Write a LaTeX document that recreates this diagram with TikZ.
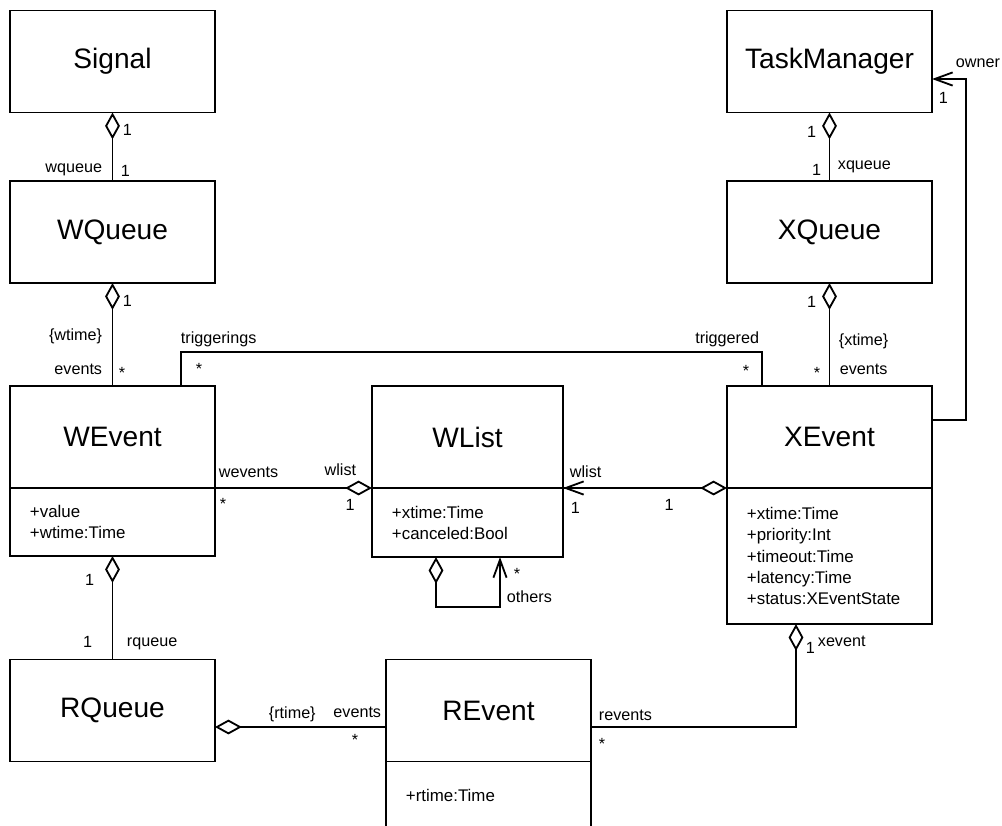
\documentclass[tikz,border=0pt]{standalone}
\usepackage{fontspec}
\setmainfont{Liberation Sans}
\usetikzlibrary{positioning,calc,arrows.meta}
\begin{document}
\begin{tikzpicture}[x=0.025cm,y=-0.025cm,line width=1.3pt,
  cls/.style={draw, inner sep=0pt, outer sep=0pt, minimum width=5.125cm, minimum height=2.55cm, font=\fontsize{20}{24}\selectfont},
  attrs/.style={draw, inner xsep=0.5cm, inner ysep=0pt, outer sep=0pt, align=left, font=\fontsize{12}{15}\selectfont},
  lbl/.style={inner sep=0pt, font=\fontsize{11.5}{13}\selectfont},
  aggr/.style={-{Diamond[open,length=0.67cm,width=0.37cm]}},
  nav/.style={-{Straight Barb[length=0.45cm,width=0.33cm]}}]
\useasboundingbox (0,0) rectangle (1002,825);
% classes
\node[cls] (signal) at (112.5,61.5) {Signal};
\node[cls] (wqueue) at (112.5,232) {WQueue};
\node[cls] (wevent) at (112.5,437) {WEvent};
\node[attrs, text width=4.125cm, minimum height=1.7cm, below=0pt of wevent] (weventattr) {+value\\+wtime:Time};
\node[cls] (rqueue) at (112.5,710.5) {RQueue};
\node[cls, minimum width=4.775cm] (wlist) at (467.5,437) {WList};
\node[attrs, text width=3.775cm, minimum height=1.725cm, below=0pt of wlist] (wlistattr) {+xtime:Time\\+canceled:Bool};
\node[cls] (revent) at (488.5,710.5) {REvent};
\node[attrs, text width=4.125cm, minimum height=1.7cm, below=0pt of revent] (reventattr) {+rtime:Time};
\node[cls] (taskmgr) at (829.5,61.5) {TaskManager};
\node[cls] (xqueue) at (829.5,232) {XQueue};
\node[cls] (xevent) at (829.5,437) {XEvent};
\node[attrs, text width=4.125cm, minimum height=3.4cm, below=0pt of xevent] (xeventattr) {+xtime:Time\\+priority:Int\\+timeout:Time\\+latency:Time\\+status:XEventState};
% associations
\draw[aggr] (wqueue.north) -- (signal.south);
\draw[aggr] (wevent.north) -- (wqueue.south);
\draw ($(wevent.north)+(68.5,0)$) -- ++(0,-34) -| ($(xevent.north)+(-67.5,0)$);
\draw[aggr] (weventattr.north east) -- (wlistattr.north west);
\draw[aggr] (wlistattr.north east) -- (xeventattr.north west);
\draw[{Straight Barb[length=0.45cm,width=0.33cm]}-] (wlistattr.north east) -- ++(20,0);
\draw[{Diamond[open,length=0.67cm,width=0.37cm]}-{Straight Barb[length=0.45cm,width=0.33cm]}]
  ($(wlistattr.south)+(-31.5,0)$) -- ++(0,50) -| ($(wlistattr.south)+(32.5,0)$);
\draw[aggr] (rqueue.north) -- (weventattr.south);
\draw[{Diamond[open,length=0.67cm,width=0.37cm]}-] ($(rqueue.east)+(0,16.5)$) -- ($(revent.west)+(0,16.5)$);
\draw[aggr] ($(revent.east)+(0,16.5)$) -| ($(xeventattr.south)+(-33.5,0)$);
\draw[aggr] (xqueue.north) -- (taskmgr.south);
\draw[aggr] (xevent.north) -- (xqueue.south);
\draw[nav] ($(xevent.east)+(0,-17)$) -- ++(34,0) |- ($(taskmgr.east)+(0,17.5)$);
% role names and multiplicities
\node[lbl, anchor=base west] (sw1) at (122,135) {1};
\node[lbl, anchor=base east] (sw2) at (103,172) {wqueue};
\node[lbl, anchor=base west] (sw3) at (120,176) {1};
\node[lbl, anchor=base west] (qe1) at (122,306) {1};
\node[lbl, anchor=base east] (qe2) at (103,340) {\{wtime\}};
\node[lbl, anchor=base east] (qe3) at (103,374) {events};
\node[lbl, anchor=base west] (qe4) at (118,378) {*};
\node[lbl, anchor=base west] (tr1) at (180,343) {triggerings};
\node[lbl, anchor=base west] (tr2) at (195,374) {*};
\node[lbl, anchor=base east] (tr3) at (760,343) {triggered};
\node[lbl, anchor=base east] (tr4) at (750,376) {*};
\node[lbl, anchor=base west] (ew1) at (218,477) {wevents};
\node[lbl, anchor=base west] (ew2) at (219,509) {*};
\node[lbl, anchor=base east] (ew3) at (357,475) {wlist};
\node[lbl, anchor=base] (ew4) at (350,510) {1};
\node[lbl, anchor=base west] (xw1) at (569,477) {wlist};
\node[lbl, anchor=base west] (xw2) at (570,513) {1};
\node[lbl, anchor=base] (xw3) at (669,510) {1};
\node[lbl, anchor=base west] (sl1) at (513,579) {*};
\node[lbl, anchor=base west] (sl2) at (506,602) {others};
\node[lbl, anchor=base east] (er1) at (95,585) {1};
\node[lbl, anchor=base east] (er2) at (93,647) {1};
\node[lbl, anchor=base west] (er3) at (126,646) {rqueue};
\node[lbl, anchor=base west] (rr1) at (268,718) {\{rtime\}};
\node[lbl, anchor=base east] (rr2) at (382,717) {events};
\node[lbl, anchor=base] (rr3) at (355,745) {*};
\node[lbl, anchor=base west] (rx1) at (598,720) {revents};
\node[lbl, anchor=base west] (rx2) at (598,749) {*};
\node[lbl, anchor=base west] (rx3) at (805,653) {1};
\node[lbl, anchor=base west] (rx4) at (817,646) {xevent};
\node[lbl, anchor=base east] (tq1) at (817,137) {1};
\node[lbl, anchor=base east] (tq2) at (822,175) {1};
\node[lbl, anchor=base west] (tq3) at (837,169) {xqueue};
\node[lbl, anchor=base east] (qx1) at (817,307) {1};
\node[lbl, anchor=base west] (qx2) at (838,345) {\{xtime\}};
\node[lbl, anchor=base east] (qx3) at (821,378) {*};
\node[lbl, anchor=base west] (qx4) at (839,374) {events};
\node[lbl, anchor=base west] (ow1) at (955,67) {owner};
\node[lbl, anchor=base west] (ow2) at (938,103) {1};
\end{tikzpicture}
\end{document}
